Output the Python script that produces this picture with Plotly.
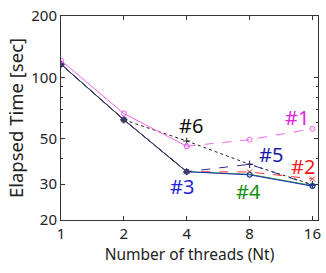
import plotly.graph_objects as go

threads = [1, 2, 4, 8, 16]
s1 = [121, 66.5, 46, 49.5, 56]
s2 = [116, 62, 34.5, 34.4, 31.8]
s3 = [116, 62, 34.5, 33.3, 29.3]
s4 = [116, 62, 34.5, 33.5, 29.5]
s5 = [116, 62, 34.5, 37.5, 29.6]
s6 = [116, 62, 48.8, 37.5, 29.8]
labels = ["#1", "#2", "#3", "#4", "#5", "#6"]
y_ticks = [20, 30, 50, 100, 200]
x_ticks = [1, 2, 4, 8, 16]

FONT = "Noto Sans"
fig = go.Figure()

def add(x, y, color, dash, symbol, width=1):
    fig.add_trace(go.Scatter(x=x, y=y, mode="lines+markers",
                             line=dict(color=color, width=width, dash=dash),
                             marker=dict(symbol=symbol, size=5, color=color,
                                         line=dict(color=color, width=1)),
                             showlegend=False))

add(threads, s6, "#222222", "dot", "cross-thin-open")
add(threads, s4, "#20a020", "solid", "circle-open")
add(threads, s2, "#ff3030", "dash", "x-thin-open")
add(threads, s5, "#303090", "dash", "cross-thin-open")
add(threads, s3, "#2030c0", "solid", "circle-open")
add(threads[:3], s3[:3], "#404050", "solid", "triangle-up")
add(threads[:3], s1[:3], "#ee66ee", "solid", "circle-open")
add(threads[2:], s1[2:], "#ee66ee", "dash", "circle-open")

ann = [
    (labels[0], 0.920, 0.504, "#e020e0"),
    (labels[5], 0.505, 0.465, "#111111"),
    (labels[4], 0.817, 0.323, "#1a1aa8"),
    (labels[1], 0.940, 0.264, "#ee2020"),
    (labels[2], 0.471, 0.166, "#2525dd"),
    (labels[3], 0.728, 0.142, "#109010"),
]
for t, ax, ay, c in ann:
    fig.add_annotation(text=t, x=ax, y=ay, xref="paper", yref="paper",
                       xanchor="center", yanchor="middle",
                       showarrow=False, font=dict(family=FONT, size=20, color=c))

fig.update_layout(
    width=326, height=273,
    margin=dict(l=61, r=5, t=16, b=53),
    paper_bgcolor="white", plot_bgcolor="white",
    font=dict(family=FONT, size=14, color="#222222"),
)
fig.update_xaxes(type="log", range=[0, 1.2307], tickvals=x_ticks,
                 ticktext=[str(v) for v in x_ticks],
                 showgrid=False, zeroline=False, showline=True, linecolor="#333333",
                 linewidth=1, mirror="ticks", ticks="inside", ticklen=4,
                 tickcolor="#333333", tickfont=dict(size=15),
                 title=dict(text="Number of threads (Nt)", font=dict(size=15.5), standoff=5))
fig.update_yaxes(type="log", range=[1.30103, 2.30103], tickvals=y_ticks,
                 ticktext=[str(v) for v in y_ticks],
                 showgrid=False, zeroline=False, showline=True, linecolor="#333333",
                 linewidth=1, mirror="ticks", ticks="inside", ticklen=4,
                 tickcolor="#333333", tickfont=dict(size=15),
                 minor=dict(ticks="inside", ticklen=2, tickcolor="#333333",
                            tickvals=[40, 60, 70, 80, 90]),
                 title=dict(text="Elapsed Time [sec]", font=dict(size=18.5), standoff=2))

fig.write_html("out.html")
